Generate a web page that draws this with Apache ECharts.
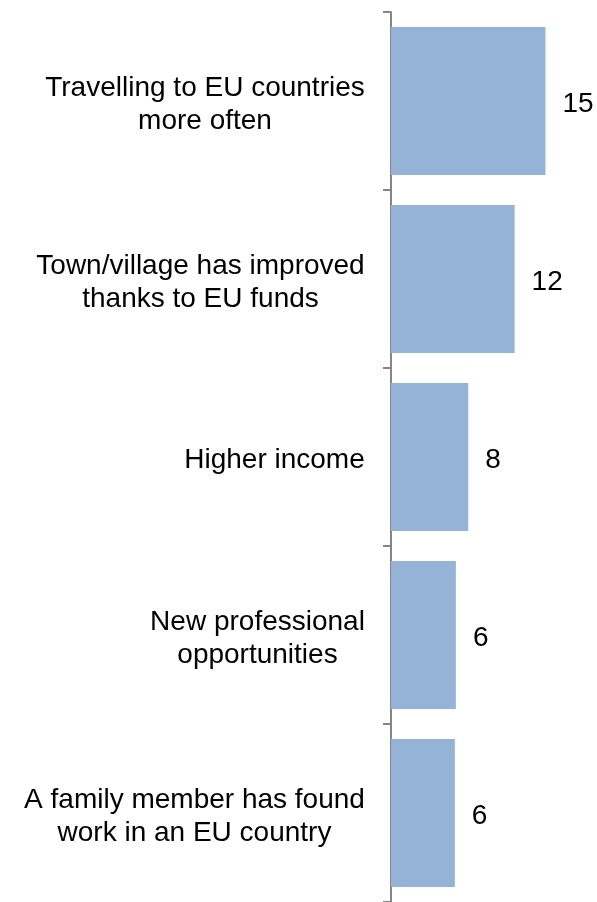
<!DOCTYPE html>
<html>
<head>
<meta charset="utf-8">
<script src="https://cdn.jsdelivr.net/npm/echarts@6/dist/echarts.min.js"></script>
<style>
html,body{margin:0;padding:0;background:#fff;}
#chart{width:597px;height:902px;}
</style>
</head>
<body>
<div id="chart"></div>
<script>
var categories = [
  "Travelling to EU countries\nmore often",
  "Town/village has improved\nthanks to EU funds",
  "Higher income",
  "New professional\nopportunities",
  "A family member has found\nwork in an EU country"
];
var values = [15, 12, 7.5, 6.3, 6.2];
var valueLabels = ["15", "12", "8", "6", "6"];

var FONT = 'Liberation Sans, Arial, sans-serif';
var FS = 28;
var ctx = document.createElement('canvas').getContext('2d');
ctx.font = FS + 'px ' + FONT;
var rich = {};
categories.forEach(function (c, i) {
  var w = 0;
  c.split('\n').forEach(function (l) { w = Math.max(w, ctx.measureText(l).width); });
  rich['c' + i] = {width: Math.ceil(w), align: 'center', fontSize: FS, fontFamily: FONT, color: '#000', lineHeight: 33};
});

var chart = echarts.init(document.getElementById('chart'), null, {renderer: 'canvas'});
chart.setOption({
  animation: false,
  backgroundColor: '#ffffff',
  grid: {left: 391, right: 0, top: 12, bottom: -2, containLabel: false},
  xAxis: {
    type: 'value', min: 0, max: 20, show: false
  },
  yAxis: {
    type: 'category',
    inverse: true,
    data: categories,
    axisLine: {show: true, lineStyle: {color: '#868686', width: 2}},
    axisTick: {show: true, length: 8, lineStyle: {color: '#868686', width: 2}},
    axisLabel: {
      margin: 26,
      fontFamily: FONT,
      fontSize: FS,
      lineHeight: 33,
      color: '#000000',
      align: 'right',
      padding: [7, 0, 0, 0],
      rich: rich,
      formatter: function (v, idx) {
        return v.split('\n').map(function (l) { return '{c' + idx + '|' + l + '}'; }).join('\n');
      }
    },
    splitLine: {show: false}
  },
  series: [{
    type: 'bar',
    data: values,
    barCategoryGap: '16.8%',
    itemStyle: {color: '#95B3D7'},
    label: {
      show: true,
      position: 'right',
      distance: 17,
      offset: [0, 3],
      fontFamily: FONT,
      fontSize: FS,
      color: '#000000',
      formatter: function (p) { return valueLabels[p.dataIndex]; }
    }
  }]
});
</script>
</body>
</html>
